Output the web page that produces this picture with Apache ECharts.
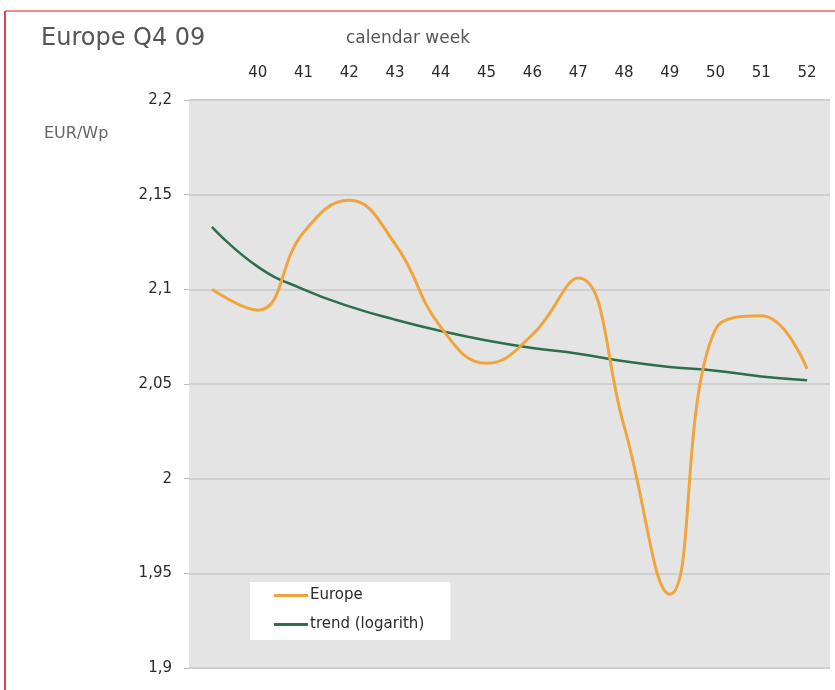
<!DOCTYPE html>
<html>
<head>
<meta charset="utf-8">
<script src="https://cdn.jsdelivr.net/npm/echarts@6/dist/echarts.min.js"></script>
<style>
html,body{margin:0;padding:0;background:#fff;}
#chart{width:835px;height:690px;}
</style>
</head>
<body>
<div id="chart"></div>
<script>
var weeks = ['39','40','41','42','43','44','45','46','47','48','49','50','51','52'];
var europe = [2.100, 2.089, 2.130, 2.147, 2.124, 2.080, 2.061, 2.076, 2.106, 2.028, 1.939, 2.079, 2.086, 2.058];
var trend = [2.133, 2.112, 2.100, 2.091, 2.084, 2.078, 2.073, 2.069, 2.066, 2.062, 2.059, 2.057, 2.054, 2.052];
var yTicks = {min: 1.9, max: 2.2, step: 0.05};

var chart = echarts.init(document.getElementById('chart'));
var font = 'DejaVu Sans';
chart.setOption({
  animation: false,
  backgroundColor: '#ffffff',
  title: [
    {text: 'Europe Q4 09', left: 36, top: 22, textStyle: {fontFamily: font, fontSize: 24, fontWeight: 'normal', color: '#555'}},
    {text: 'calendar week', left: 341, top: 25, textStyle: {fontFamily: font, fontSize: 17, fontWeight: 'normal', color: '#555'}},
    {text: 'EUR/Wp', left: 39, top: 121, textStyle: {fontFamily: font, fontSize: 16, fontWeight: 'normal', color: '#666'}}
  ],
  graphic: [
    {type: 'line', shape: {x1: 5, y1: 11, x2: 835, y2: 11}, style: {stroke: '#f28a8a', lineWidth: 2}},
    {type: 'line', shape: {x1: 5, y1: 11, x2: 5, y2: 690}, style: {stroke: '#e04050', lineWidth: 2}}
  ],
  grid: {left: 189, top: 100, right: 5, bottom: 22, show: true, backgroundColor: '#e4e4e4', borderWidth: 0},
  legend: {
    orient: 'vertical', left: 250, top: 582,
    backgroundColor: '#ffffff',
    padding: [6, 26, 8, 24],
    itemGap: 14,
    itemWidth: 34, itemHeight: 3, icon: 'rect',
    itemStyle: {borderWidth: 0},
    textStyle: {fontFamily: font, fontSize: 15, color: '#2a2a2a', padding: [0, 0, 0, -3]},
    data: ['Europe', 'trend (logarith)']
  },
  xAxis: {
    type: 'category', position: 'top', data: weeks, boundaryGap: true,
    axisLine: {show: false}, axisTick: {show: false},
    axisLabel: {margin: 19, fontFamily: font, fontSize: 15, color: '#2a2a2a',
      formatter: function (v, i) { return i === 0 ? '' : v; }},
    splitLine: {show: false}
  },
  yAxis: {
    type: 'value', min: yTicks.min, max: yTicks.max, interval: yTicks.step,
    axisLine: {show: false},
    axisTick: {show: true, length: 5, lineStyle: {color: '#bbb'}},
    axisLabel: {margin: 17, fontFamily: font, fontSize: 15, color: '#2a2a2a',
      formatter: function (v) { return String(Math.round(v * 100) / 100).replace('.', ','); }},
    splitLine: {show: true, lineStyle: {color: '#cfcfcf', width: 2}}
  },
  series: [
    {name: 'Europe', type: 'line', data: europe, smooth: 0.45, symbol: 'none',
      lineStyle: {color: '#f0a43c', width: 3}, itemStyle: {color: '#f0a43c'}, z: 3},
    {name: 'trend (logarith)', type: 'line', data: trend, smooth: 0.5, symbol: 'none',
      lineStyle: {color: '#2f6e4c', width: 2.5}, itemStyle: {color: '#2f6e4c'}, z: 2}
  ]
});
</script>
</body>
</html>
